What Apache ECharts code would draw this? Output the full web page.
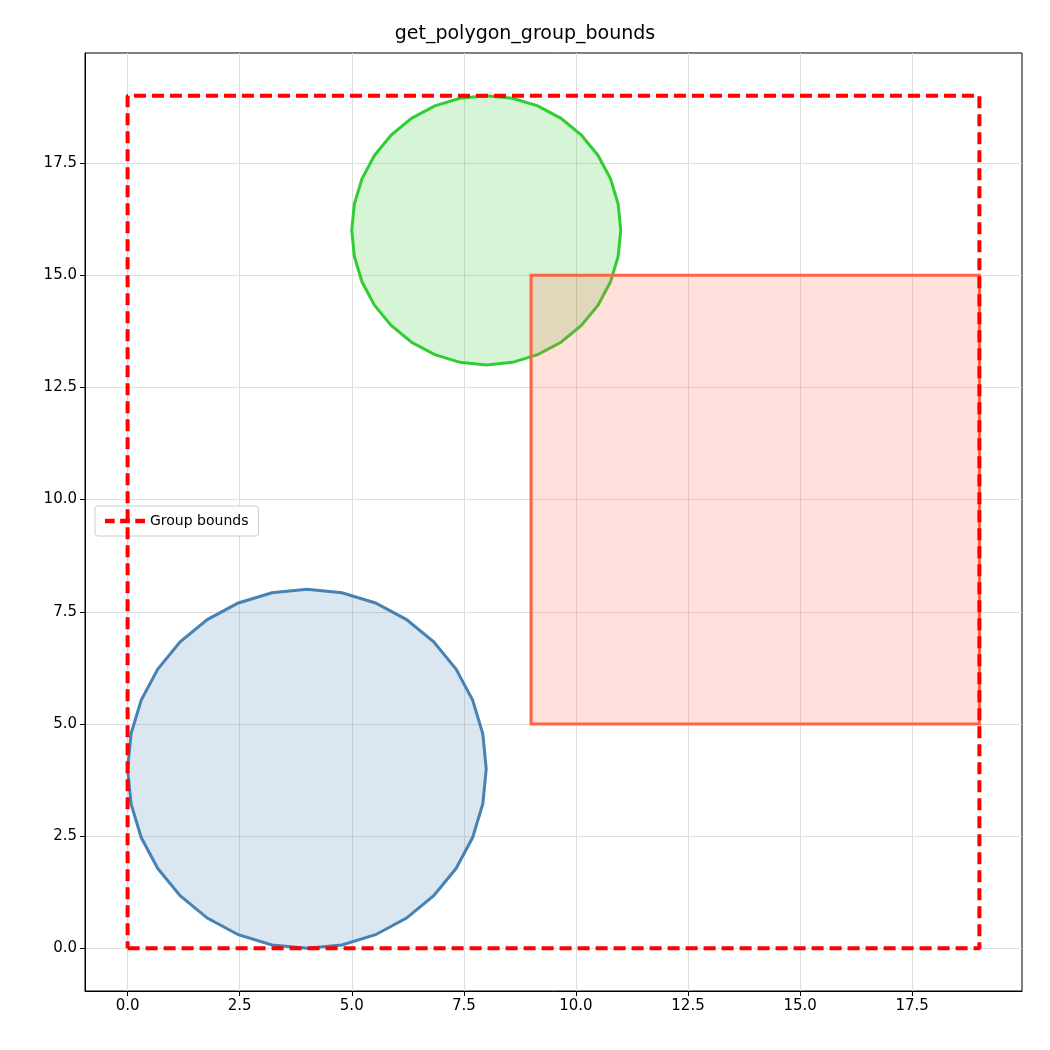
<!DOCTYPE html>
<html><head><meta charset="utf-8">
<script src="https://cdn.jsdelivr.net/npm/echarts@6/dist/echarts.min.js"></script>
<style>html,body{margin:0;padding:0;background:#fff}#c{width:1050px;height:1050px}</style>
</head><body><div id="c"></div>
<script>
const tickValues = [0, 2.5, 5, 7.5, 10, 12.5, 15, 17.5];
const blueCircle = [[8,4],[7.923,4.780],[7.696,5.531],[7.326,6.222],[6.828,6.828],[6.222,7.326],[5.531,7.696],[4.780,7.923],[4,8],[3.220,7.923],[2.469,7.696],[1.778,7.326],[1.172,6.828],[0.674,6.222],[0.304,5.531],[0.077,4.780],[0,4],[0.077,3.220],[0.304,2.469],[0.674,1.778],[1.172,1.172],[1.778,0.674],[2.469,0.304],[3.220,0.077],[4,0],[4.780,0.077],[5.531,0.304],[6.222,0.674],[6.828,1.172],[7.326,1.778],[7.696,2.469],[7.923,3.220]];
const greenCircle = [[11,16],[10.942,16.585],[10.772,17.148],[10.494,17.667],[10.121,18.121],[9.667,18.494],[9.148,18.772],[8.585,18.942],[8,19],[7.415,18.942],[6.852,18.772],[6.333,18.494],[5.879,18.121],[5.506,17.667],[5.228,17.148],[5.058,16.585],[5,16],[5.058,15.415],[5.228,14.852],[5.506,14.333],[5.879,13.879],[6.333,13.506],[6.852,13.228],[7.415,13.058],[8,13],[8.585,13.058],[9.148,13.228],[9.667,13.506],[10.121,13.879],[10.494,14.333],[10.772,14.852],[10.942,15.415]];
const redRect = [[9,5],[19,5],[19,15],[9,15]];
const bounds = [[0,0],[19,0],[19,19],[0,19],[0,0]];

function polySeries(name, pts, stroke, fill){
  return {type:'custom', name:name, data:[0], z:2,
    renderItem:(params, api)=>({type:'polygon',
      shape:{points:pts.map(p=>api.coord(p))},
      style:{fill:fill, stroke:stroke, lineWidth:3}})};
}
const axisCommon = {type:'value', min:-0.95, max:19.95,
  axisLine:{show:true, onZero:false, lineStyle:{color:'#000'}},
  axisTick:{show:true, inside:false, customValues:tickValues, length:5, lineStyle:{color:'#000'}},
  axisLabel:{customValues:tickValues, formatter:v=>v.toFixed(1), color:'#000', fontSize:15, fontFamily:'DejaVu Sans'},
  splitLine:{show:true, lineStyle:{color:'#dedede', width:1}}};
const chart = echarts.init(document.getElementById('c'));
chart.setOption({
  animation:false,
  title:{text:'get_polygon_group_bounds', left:'center', top:20, textStyle:{fontSize:19, fontWeight:'normal', color:'#000', fontFamily:'DejaVu Sans'}},
  grid:{left:85, right:28, top:53, bottom:59, show:true, borderColor:'#000', borderWidth:1},
  xAxis:Object.assign({}, axisCommon, {position:'bottom'}),
  yAxis:Object.assign({}, axisCommon, {position:'left'}),
  legend:{left:95, top:506, orient:'vertical',
    data:[{name:'Group bounds', icon:'path://M0,0h9v4h-9zM14,0h9v4h-9zM28,0h9v4h-9z'}],
    itemWidth:40, itemHeight:5,
    backgroundColor:'#fff', borderColor:'#ccc', borderWidth:1, borderRadius:3, padding:[8,10],
    textStyle:{fontSize:14, color:'#000', fontFamily:'DejaVu Sans'}},
  series:[
    polySeries('blue', blueCircle, '#4682b4', 'rgba(70,130,180,0.2)'),
    polySeries('green', greenCircle, '#32cd32', 'rgba(50,205,50,0.2)'),
    polySeries('red', redRect, '#ff6347', 'rgba(255,99,71,0.2)'),
    {type:'line', name:'Group bounds', data:bounds, symbol:'none', z:5,
      lineStyle:{color:'#ff0000', width:4, type:[12,6]}, itemStyle:{color:'#ff0000'}}
  ]
});
</script></body></html>
